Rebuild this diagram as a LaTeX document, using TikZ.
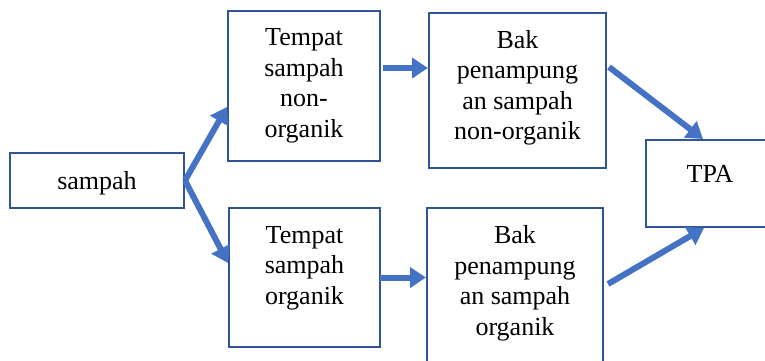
\documentclass[tikz,border=0pt]{standalone}
\usepackage{fontspec}
\setmainfont{Liberation Serif}
\usetikzlibrary{arrows.meta,calc}
\definecolor{boxline}{HTML}{2F5597}
\definecolor{arrowblue}{HTML}{4472C4}
\begin{document}
\begin{tikzpicture}[x=1pt,y=1pt,
  box/.style={draw=boxline, line width=2pt, fill=white, inner sep=0pt},
  txt/.style={inner sep=0pt, align=center, font=\fontsize{26}{30.5}\selectfont},
  arr/.style={draw=arrowblue, line width=6pt,
    -{Triangle[length=16pt,width=20pt]}}]
\useasboundingbox (0,0) rectangle (765,360);

% boxes
\node[box, minimum width=174pt, minimum height=55pt] (s) at (97,179.5) {};
\node[box, minimum width=152pt, minimum height=150pt] (t1) at (304,274) {};
\node[box, minimum width=151pt, minimum height=139pt] (t2) at (304.5,82.5) {};
\node[box, minimum width=177pt, minimum height=155pt] (b1) at (517.5,269.5) {};
\node[box, minimum width=176pt, minimum height=157pt] (b2) at (515,73.5) {};
\node[box, minimum width=128pt, minimum height=87pt] (tpa) at (710,176.5) {};

% labels: each placed by the baseline of its last line
\node[txt, anchor=base] (ls) at ([yshift=-37pt]s.north) {sampah};
\node[txt, anchor=base] (lt1) at ([yshift=-127pt]t1.north) {Tempat\\sampah\\non-\\organik};
\node[txt, anchor=base] (lt2) at ([yshift=-97pt]t2.north) {Tempat\\sampah\\organik};
\node[txt, anchor=base] (lb1) at ([yshift=-127.5pt]b1.north) {Bak\\penampung\\an sampah\\non-organik};
\node[txt, anchor=base] (lb2) at ([yshift=-128pt]b2.north) {Bak\\penampung\\an sampah\\organik};
\node[txt, anchor=base] (ltpa) at ([yshift=-43pt]tpa.north) {TPA};

% connectors
\draw[arr] (s.east) -- ([yshift=-21pt]t1.west);
\draw[arr] (s.east) -- ([yshift=14.5pt]t2.west);
\draw[arr] ([xshift=2pt,yshift=18pt]t1.east) -- ([yshift=18pt]t1.east -| b1.west);
\draw[arr] ([xshift=-1pt]t2.east) -- (t2.east -| b2.west);
\draw[arr] ([xshift=2pt,yshift=23.5pt]b1.east) -- ([xshift=-7pt]tpa.north);
\draw[arr] ([xshift=4pt,yshift=2.5pt]b2.east) -- ([xshift=-6pt]tpa.south);
\end{tikzpicture}
\end{document}
